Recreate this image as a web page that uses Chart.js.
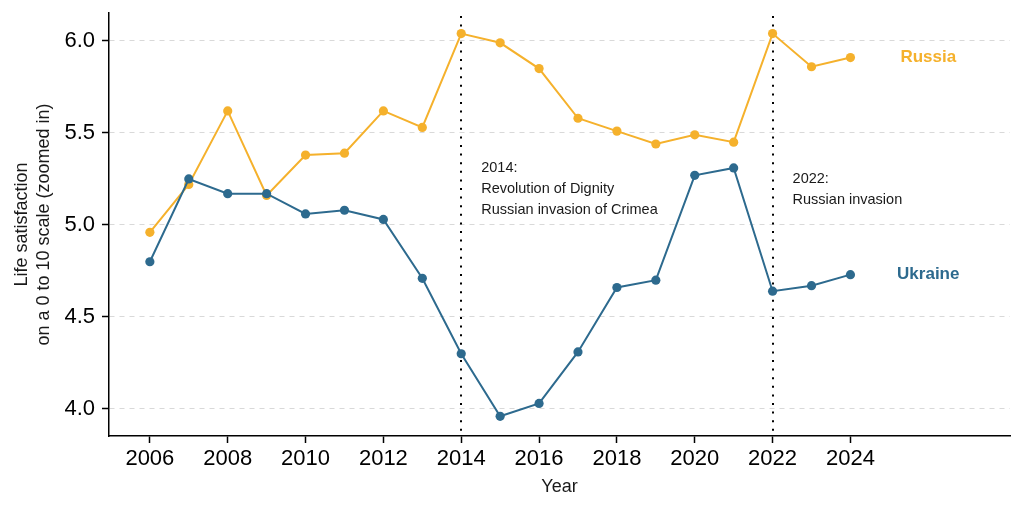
<!DOCTYPE html>
<html>
<head>
<meta charset="utf-8">
<script src="https://cdn.jsdelivr.net/npm/chart.js@4.4.1/dist/chart.umd.min.js"></script>
<style>
  html, body { margin: 0; padding: 0; background: #fff; }
  canvas { display: block; }
</style>
</head>
<body>
<canvas id="lifeChart" width="1024" height="512"></canvas>
<script>
// data
const years = [2006, 2007, 2008, 2009, 2010, 2011, 2012, 2013, 2014, 2015,
               2016, 2017, 2018, 2019, 2020, 2021, 2022, 2023, 2024];
const russia = [4.96, 5.22, 5.62, 5.16, 5.38, 5.39, 5.62, 5.53, 6.04, 5.99,
                5.85, 5.58, 5.51, 5.44, 5.49, 5.45, 6.04, 5.86, 5.91];
const ukraine = [4.80, 5.25, 5.17, 5.17, 5.06, 5.08, 5.03, 4.71, 4.30, 3.96,
                 4.03, 4.31, 4.66, 4.70, 5.27, 5.31, 4.64, 4.67, 4.73];
const xTicks = [2006, 2008, 2010, 2012, 2014, 2016, 2018, 2020, 2022, 2024];
const yTicks = [4.0, 4.5, 5.0, 5.5, 6.0];

const eventYears = [2014, 2022];
const eventTextTop = [5.31, 5.25];
const eventText = [
    ['2014:', 'Revolution of Dignity', 'Russian invasion of Crimea'],
    ['2022:', 'Russian invasion']
];
const seriesNames = ['Russia', 'Ukraine'];
const seriesLabelYear = 2026;

const orange = '#F5B12C';
const blue = '#2D6A8E';
const font = '"Liberation Sans", Arial, Helvetica, sans-serif';

function toPoints(values) {
    return years.map(function(y, i) { return {x: y, y: values[i]}; });
}

const annotations = {
    id: 'annotations',
    beforeDatasetsDraw: function(chart) {
        const ctx = chart.ctx;
        const xs = chart.scales.x;
        const area = chart.chartArea;
        ctx.save();
        ctx.strokeStyle = '#000';
        ctx.lineWidth = 2;
        ctx.setLineDash([2, 6.6]);
        eventYears.forEach(function(yr) {
            const px = Math.round(xs.getPixelForValue(yr));
            ctx.beginPath();
            ctx.moveTo(px, area.top + 3);
            ctx.lineTo(px, area.bottom);
            ctx.stroke();
        });
        ctx.restore();
    },
    afterDatasetsDraw: function(chart) {
        const ctx = chart.ctx;
        const xs = chart.scales.x;
        const ys = chart.scales.y;
        ctx.save();
        ctx.fillStyle = '#1a1a1a';
        ctx.font = '14.5px ' + font;
        ctx.textAlign = 'left';
        ctx.textBaseline = 'middle';
        eventYears.forEach(function(yr, i) {
            const px = xs.getPixelForValue(yr) + 20;
            const py = ys.getPixelForValue(eventTextTop[i]);
            eventText[i].forEach(function(line, j) {
                ctx.fillText(line, px, py + j * 21);
            });
        });
        // series labels at the right
        ctx.font = 'bold 17px ' + font;
        ctx.textAlign = 'center';
        const last = years.length - 1;
        [russia, ukraine].forEach(function(vals, i) {
            ctx.fillStyle = i === 0 ? orange : blue;
            ctx.fillText(seriesNames[i], xs.getPixelForValue(seriesLabelYear),
                         ys.getPixelForValue(vals[last]));
        });
        ctx.restore();
    }
};

const ctx = document.getElementById('lifeChart').getContext('2d');
new Chart(ctx, {
    type: 'line',
    data: {
        datasets: [{
            label: 'Ukraine',
            data: toPoints(ukraine),
            borderColor: blue,
            backgroundColor: blue,
            borderWidth: 2,
            pointRadius: 4.6,
            pointBorderWidth: 0,
            order: 0
        }, {
            label: 'Russia',
            data: toPoints(russia),
            borderColor: orange,
            backgroundColor: orange,
            borderWidth: 2,
            pointRadius: 4.6,
            pointBorderWidth: 0,
            order: 1
        }]
    },
    options: {
        responsive: false,
        animation: false,
        devicePixelRatio: 1,
        layout: { padding: { top: 13, right: 14, left: 0, bottom: 0 } },
        plugins: { legend: { display: false }, tooltip: { enabled: false } },
        scales: {
            x: {
                type: 'linear',
                min: 2004.95,
                max: 2028.1,
                afterBuildTicks: function(scale) {
                    scale.ticks = xTicks.map(function(v) { return {value: v}; });
                },
                afterFit: function(scale) {
                    scale.height = 76;
                    scale.paddingLeft = 0;
                    scale.paddingRight = 0;
                },
                grid: {
                    drawOnChartArea: false,
                    drawTicks: true,
                    tickLength: 7,
                    tickColor: '#000',
                    tickWidth: 1.5
                },
                border: { display: true, color: '#000', width: 1.5 },
                ticks: {
                    color: '#000',
                    padding: 3,
                    maxRotation: 0,
                    autoSkip: false,
                    font: { family: font, size: 22 },
                    callback: function(v) { return String(v); }
                },
                title: {
                    display: true,
                    text: 'Year',
                    color: '#1a1a1a',
                    font: { family: font, size: 18 },
                    padding: { top: 0, bottom: 14 }
                }
            },
            y: {
                min: 3.853,
                max: 6.152,
                afterBuildTicks: function(scale) {
                    scale.ticks = yTicks.map(function(v) { return {value: v}; });
                },
                afterFit: function(scale) {
                    scale.width = 109;
                    scale.paddingTop = 0;
                    scale.paddingBottom = 0;
                },
                grid: {
                    color: '#d9d9d9',
                    lineWidth: 1,
                    drawTicks: true,
                    tickLength: 7,
                    tickColor: '#000',
                    tickWidth: 1.5
                },
                border: { display: true, color: '#000', width: 1.5, dash: [5, 5] },
                ticks: {
                    color: '#000',
                    padding: 7,
                    font: { family: font, size: 22 },
                    callback: function(v) { return v.toFixed(1); }
                },
                title: {
                    display: true,
                    text: ['Life satisfaction', 'on a 0 to 10 scale (zoomed in)'],
                    color: '#1a1a1a',
                    font: { family: font, size: 18, lineHeight: 1.17 },
                    padding: { top: 12, bottom: 0 }
                }
            }
        }
    },
    plugins: [annotations]
});
</script>
</body>
</html>
